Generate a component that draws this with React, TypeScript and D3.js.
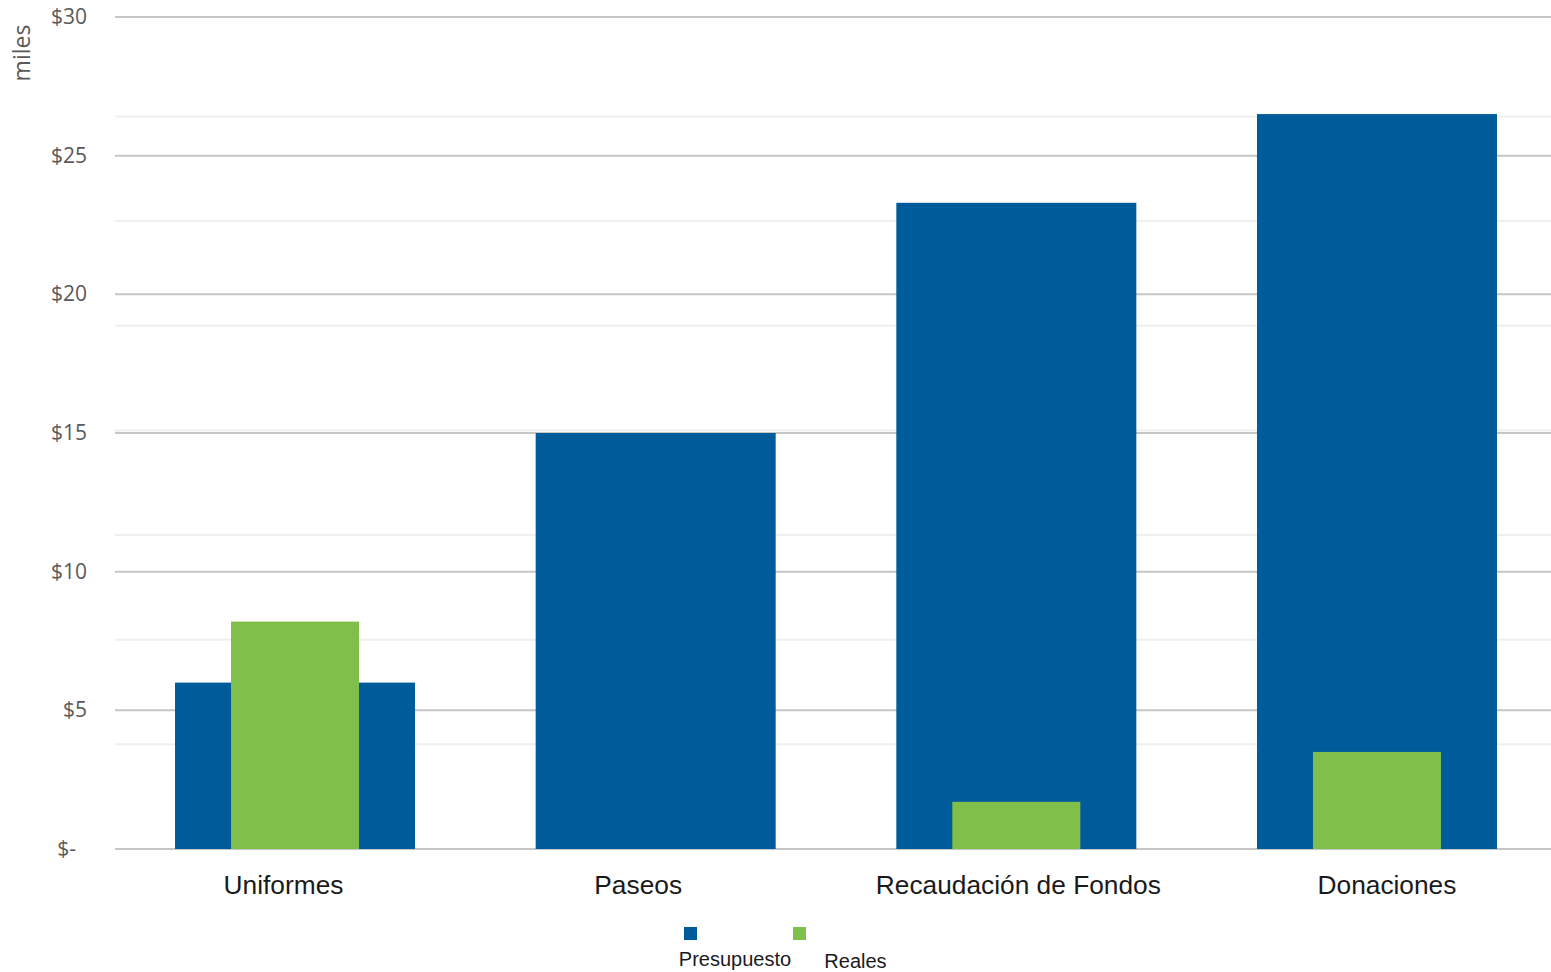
import React from "react";
import * as d3 from "d3";

const categories = ["Uniformes", "Paseos", "Recaudación de Fondos", "Donaciones"];
const presupuesto = [6, 15, 23.3, 26.5];
const reales = [8.2, 0, 1.7, 3.5];
const yTicks = [0, 5, 10, 15, 20, 25, 30];
const yTickLabels = ["$-", "$5", "$10", "$15", "$20", "$25", "$30"];
const minorTicks = [4, 8, 12, 16, 20, 24, 28];
const seriesNames = ["Presupuesto", "Reales"];

const W = 1551;
const H = 972;
const BLUE = "#005b9b";
const GREEN = "#7fbf4a";
const labelOffsets = [-11.5, -17.5, 2, 10];

export default function App() {
  const left = 115;
  const right = 1551;
  const top = 17;
  const bottom = 849;
  const x = d3.scaleBand<string>().domain(categories).range([114.7, 1557.3]).paddingInner(0).paddingOuter(0);
  const y = d3.scaleLinear().domain([0, 30]).range([bottom, top]);
  const y2 = d3.scaleLinear().domain([0, 31.8]).range([bottom, top]);
  const blueW = 240;
  const greenW = 128;
  const cx = (c: string) => (x(c) as number) + x.bandwidth() / 2;

  return (
    <svg width={W} height={H} style={{ position: "absolute", left: 0, top: 0, background: "#fff" }}>
      {minorTicks.map((t) => (
        <line key={"m" + t} x1={left} x2={right} y1={y2(t)} y2={y2(t)} stroke="#efefef" strokeWidth={2} />
      ))}
      {yTicks.map((t) => (
        <line key={"g" + t} x1={left} x2={right} y1={y(t)} y2={y(t)} stroke="#c6c6c6" strokeWidth={2} />
      ))}
      {yTicks.map((t, i) => (
        <text
          key={"t" + t}
          x={t === 0 ? 76 : 87}
          y={y(t) + 7}
          textAnchor="end"
          fontFamily="Open Sans, sans-serif"
          fontSize={21}
          fill="#595959"
        >
          {yTickLabels[i]}
        </text>
      ))}
      <text
        transform={`translate(30,53) rotate(-90)`}
        textAnchor="middle"
        fontFamily="Open Sans, sans-serif"
        fontSize={23}
        fill="#595959"
      >
        miles
      </text>
      {categories.map((c, i) => (
        <rect
          key={"b" + c}
          x={cx(c) - blueW / 2}
          y={y(presupuesto[i])}
          width={blueW}
          height={y(0) - y(presupuesto[i])}
          fill={BLUE}
        />
      ))}
      {categories.map((c, i) =>
        reales[i] > 0 ? (
          <rect
            key={"r" + c}
            x={cx(c) - greenW / 2}
            y={y(reales[i])}
            width={greenW}
            height={y(0) - y(reales[i])}
            fill={GREEN}
          />
        ) : null
      )}
      {categories.map((c, i) => (
        <text
          key={"l" + c}
          x={cx(c) + labelOffsets[i]}
          y={894}
          textAnchor="middle"
          fontFamily="Liberation Sans, Arial, sans-serif"
          fontSize={26.3}
          fill="#1a1a1a"
        >
          {c}
        </text>
      ))}
      <rect x={684} y={927} width={13} height={13} fill={BLUE} />
      <rect x={793} y={927} width={13} height={13} fill={GREEN} />
      <text x={735} y={966} textAnchor="middle" fontFamily="Liberation Sans, Arial, sans-serif" fontSize={20} fill="#1a1a1a">
        {seriesNames[0]}
      </text>
      <text x={855.5} y={968} textAnchor="middle" fontFamily="Liberation Sans, Arial, sans-serif" fontSize={20} fill="#1a1a1a">
        {seriesNames[1]}
      </text>
    </svg>
  );
}
